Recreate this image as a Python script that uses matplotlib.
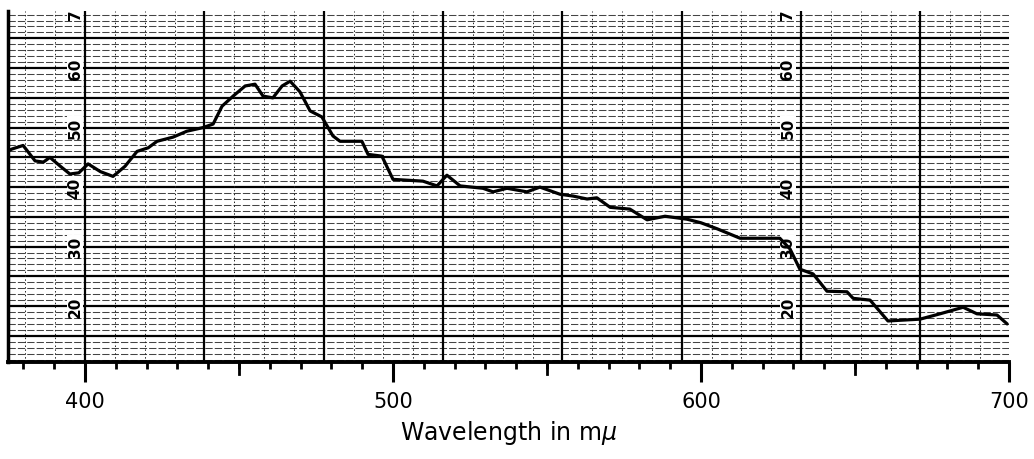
import numpy as np
import matplotlib
matplotlib.use("Agg")
import matplotlib.pyplot as plt

# trace (wavelength in m-mu, chart reading)
wavelength = [375.5, 376.3, 379.9, 383.8, 386.5, 388.6, 392.0, 395.1, 398.0, 401.0,
              405.0, 409.1, 413.0, 416.9, 420.5, 423.4, 428.6, 433.1, 438.3, 441.6,
              444.5, 448.1, 452.0, 455.2, 457.8, 461.0, 464.0, 466.6, 469.8, 473.1,
              476.9, 480.5, 482.8, 489.9, 491.9, 496.4, 500.0, 509.7, 514.3, 517.5,
              521.8, 529.2, 532.5, 537.0, 543.5, 547.7, 554.2, 558.4, 563.0, 566.2,
              570.5, 576.9, 582.5, 588.3, 595.5, 600.0, 605.2, 612.7, 625.6, 628.9,
              632.1, 636.4, 640.9, 647.4, 649.4, 654.9, 660.7, 671.1, 677.6, 685.1,
              689.6, 696.1, 699.4]
reading = [46.2, 46.4, 47.0, 44.4, 44.2, 45.0, 43.5, 42.2, 42.4, 43.9,
           42.6, 41.8, 43.5, 46.0, 46.6, 47.7, 48.4, 49.4, 50.0, 50.6,
           53.6, 55.3, 57.0, 57.3, 55.3, 55.0, 57.0, 57.8, 56.0, 52.8,
           51.8, 48.6, 47.7, 47.7, 45.5, 45.2, 41.3, 41.0, 40.2, 42.0,
           40.2, 39.8, 39.2, 39.8, 39.2, 40.0, 38.8, 38.5, 38.0, 38.2,
           36.6, 36.3, 34.5, 35.1, 34.6, 34.0, 33.0, 31.4, 31.4, 29.6,
           26.2, 25.4, 22.5, 22.4, 21.3, 21.0, 17.5, 17.8, 18.7, 19.8,
           18.7, 18.5, 17.0]

x_labels = [400, 500, 600, 700]
y_labels = [20, 30, 40, 50, 60, 70]

fig = plt.figure(figsize=(10.34, 4.6), dpi=100)
ax = fig.add_axes([8 / 1034, 1 - 363 / 460, 1001 / 1034, 351 / 460])
ax.set_xlim(375.0, 700.0)
ax.set_ylim(10.6, 69.6)

# chart paper: fine horizontal rulings every unit, heavy every 5
for v in range(11, 70):
    if v % 5 == 0:
        ax.axhline(v, color="black", lw=1.6, zorder=1)
    else:
        ax.axhline(v, color="#444444", lw=0.75, dashes=(7, 2), zorder=1)

# vertical rulings of the paper (not tied to the wavelength scale)
step = 38.75
for k in range(-2, 34):
    v = 400 + k * step / 4
    if v <= 375 or v > 700:
        continue
    if k % 4 == 0:
        ax.axvline(v, color="black", lw=1.6, zorder=1)
    else:
        ax.axvline(v, color="#222222", lw=0.7, dashes=(1.5, 2.5), zorder=1)

# scale figures printed on the paper
for col in [396.8, 628.2]:
    for v in y_labels:
        ax.text(col, v, str(v), rotation=90, ha="center", va="center",
                fontsize=11, fontweight="bold", zorder=2, clip_on=True,
                bbox=dict(facecolor="white", edgecolor="none", pad=0.6))

ax.plot(wavelength, reading, color="black", lw=2.3, zorder=3,
        solid_joinstyle="round", solid_capstyle="round")

for s in ["top", "right"]:
    ax.spines[s].set_visible(False)
ax.spines["left"].set_linewidth(2.5)
ax.spines["bottom"].set_linewidth(2.8)
ax.spines["bottom"].set_zorder(4)

ax.set_yticks([])
ax.set_xticks(x_labels)
ax.set_xticklabels([str(v) for v in x_labels])
ax.set_xticks(np.arange(380, 701, 10), minor=True)
ax.tick_params(axis="x", which="major", direction="out", length=14.5, width=2.2,
               pad=6.5, labelsize=15)
ax.tick_params(axis="x", which="minor", direction="out", length=5, width=2.0)
for v in [450, 550, 650]:
    ax.plot([v, v], [0, -12 / 351], color="black", lw=2.0,
            transform=ax.get_xaxis_transform(), clip_on=False)

ax.set_xlabel("Wavelength in m$\\mu$", fontsize=17, labelpad=5)

fig.savefig("out.png", dpi=100)
